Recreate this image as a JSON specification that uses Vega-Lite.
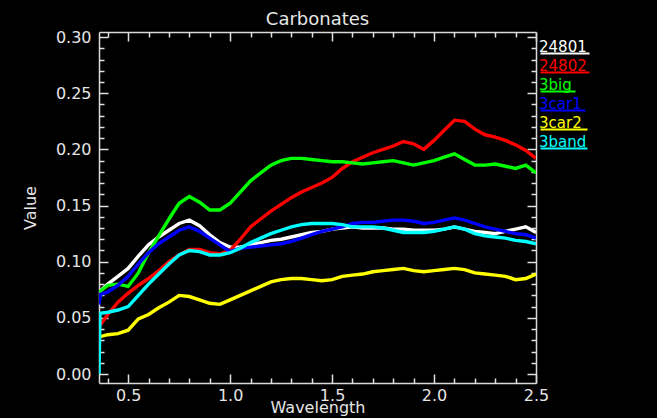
{
"$schema":"https://vega.github.io/schema/vega-lite/v6.json",
"width":437,"height":351,
"autosize":{"type":"none"},
"padding":{"left":99,"top":32,"right":121,"bottom":35},
"background":"black",
"title":{"text":"Carbonates","color":"#e6e6e6","font":"DejaVu Sans","fontSize":18,"fontWeight":"normal","offset":0},
"config":{"view":{"stroke":null},"axis":{"domainColor":"#d9d9d9","tickColor":"#d9d9d9","labelColor":"#e6e6e6","titleColor":"#e6e6e6","labelFont":"DejaVu Sans","titleFont":"DejaVu Sans","titleFontWeight":"normal","grid":false,"labelFlush":false,"domainWidth":1.5,"tickWidth":1.5,"ticks":true,"tickOpacity":1}},
"resolve":{"axis":{"x":"independent","y":"independent"}},
"layer":[
{"data":{"values":[
{"series":"24801","wl":0.357,"v":0.073},{"series":"24801","wl":0.40,"v":0.080},{"series":"24801","wl":0.45,"v":0.087},{"series":"24801","wl":0.50,"v":0.094},{"series":"24801","wl":0.55,"v":0.105},{"series":"24801","wl":0.60,"v":0.115},{"series":"24801","wl":0.65,"v":0.122},{"series":"24801","wl":0.70,"v":0.128},{"series":"24801","wl":0.75,"v":0.134},{"series":"24801","wl":0.80,"v":0.137},{"series":"24801","wl":0.85,"v":0.132},{"series":"24801","wl":0.90,"v":0.124},{"series":"24801","wl":0.95,"v":0.117},{"series":"24801","wl":1.00,"v":0.113},{"series":"24801","wl":1.05,"v":0.113},{"series":"24801","wl":1.10,"v":0.115},{"series":"24801","wl":1.15,"v":0.117},{"series":"24801","wl":1.20,"v":0.119},{"series":"24801","wl":1.25,"v":0.120},{"series":"24801","wl":1.30,"v":0.122},{"series":"24801","wl":1.35,"v":0.124},{"series":"24801","wl":1.40,"v":0.126},{"series":"24801","wl":1.45,"v":0.127},{"series":"24801","wl":1.50,"v":0.129},{"series":"24801","wl":1.55,"v":0.130},{"series":"24801","wl":1.60,"v":0.131},{"series":"24801","wl":1.65,"v":0.130},{"series":"24801","wl":1.70,"v":0.130},{"series":"24801","wl":1.75,"v":0.130},{"series":"24801","wl":1.80,"v":0.129},{"series":"24801","wl":1.85,"v":0.129},{"series":"24801","wl":1.90,"v":0.128},{"series":"24801","wl":1.95,"v":0.128},{"series":"24801","wl":2.00,"v":0.128},{"series":"24801","wl":2.05,"v":0.129},{"series":"24801","wl":2.10,"v":0.131},{"series":"24801","wl":2.15,"v":0.129},{"series":"24801","wl":2.20,"v":0.127},{"series":"24801","wl":2.25,"v":0.126},{"series":"24801","wl":2.30,"v":0.125},{"series":"24801","wl":2.35,"v":0.127},{"series":"24801","wl":2.40,"v":0.129},{"series":"24801","wl":2.45,"v":0.131},{"series":"24801","wl":2.50,"v":0.126},
{"series":"24802","wl":0.357,"v":0.042},{"series":"24802","wl":0.40,"v":0.053},{"series":"24802","wl":0.45,"v":0.064},{"series":"24802","wl":0.50,"v":0.072},{"series":"24802","wl":0.55,"v":0.079},{"series":"24802","wl":0.60,"v":0.085},{"series":"24802","wl":0.65,"v":0.092},{"series":"24802","wl":0.70,"v":0.100},{"series":"24802","wl":0.75,"v":0.106},{"series":"24802","wl":0.80,"v":0.111},{"series":"24802","wl":0.85,"v":0.111},{"series":"24802","wl":0.90,"v":0.108},{"series":"24802","wl":0.95,"v":0.107},{"series":"24802","wl":1.00,"v":0.110},{"series":"24802","wl":1.05,"v":0.120},{"series":"24802","wl":1.10,"v":0.131},{"series":"24802","wl":1.15,"v":0.138},{"series":"24802","wl":1.20,"v":0.145},{"series":"24802","wl":1.25,"v":0.151},{"series":"24802","wl":1.30,"v":0.157},{"series":"24802","wl":1.35,"v":0.162},{"series":"24802","wl":1.40,"v":0.166},{"series":"24802","wl":1.45,"v":0.170},{"series":"24802","wl":1.50,"v":0.175},{"series":"24802","wl":1.55,"v":0.183},{"series":"24802","wl":1.60,"v":0.189},{"series":"24802","wl":1.65,"v":0.193},{"series":"24802","wl":1.70,"v":0.197},{"series":"24802","wl":1.75,"v":0.200},{"series":"24802","wl":1.80,"v":0.203},{"series":"24802","wl":1.85,"v":0.207},{"series":"24802","wl":1.90,"v":0.205},{"series":"24802","wl":1.95,"v":0.200},{"series":"24802","wl":2.00,"v":0.208},{"series":"24802","wl":2.05,"v":0.217},{"series":"24802","wl":2.10,"v":0.226},{"series":"24802","wl":2.15,"v":0.225},{"series":"24802","wl":2.20,"v":0.218},{"series":"24802","wl":2.25,"v":0.213},{"series":"24802","wl":2.30,"v":0.211},{"series":"24802","wl":2.35,"v":0.208},{"series":"24802","wl":2.40,"v":0.204},{"series":"24802","wl":2.45,"v":0.199},{"series":"24802","wl":2.50,"v":0.192},
{"series":"3big","wl":0.357,"v":0.073},{"series":"3big","wl":0.40,"v":0.079},{"series":"3big","wl":0.45,"v":0.080},{"series":"3big","wl":0.50,"v":0.078},{"series":"3big","wl":0.55,"v":0.090},{"series":"3big","wl":0.60,"v":0.108},{"series":"3big","wl":0.65,"v":0.123},{"series":"3big","wl":0.70,"v":0.138},{"series":"3big","wl":0.75,"v":0.152},{"series":"3big","wl":0.80,"v":0.158},{"series":"3big","wl":0.85,"v":0.153},{"series":"3big","wl":0.90,"v":0.146},{"series":"3big","wl":0.95,"v":0.146},{"series":"3big","wl":1.00,"v":0.152},{"series":"3big","wl":1.05,"v":0.162},{"series":"3big","wl":1.10,"v":0.172},{"series":"3big","wl":1.15,"v":0.179},{"series":"3big","wl":1.20,"v":0.186},{"series":"3big","wl":1.25,"v":0.190},{"series":"3big","wl":1.30,"v":0.192},{"series":"3big","wl":1.35,"v":0.192},{"series":"3big","wl":1.40,"v":0.191},{"series":"3big","wl":1.45,"v":0.190},{"series":"3big","wl":1.50,"v":0.189},{"series":"3big","wl":1.55,"v":0.189},{"series":"3big","wl":1.60,"v":0.188},{"series":"3big","wl":1.65,"v":0.187},{"series":"3big","wl":1.70,"v":0.188},{"series":"3big","wl":1.75,"v":0.189},{"series":"3big","wl":1.80,"v":0.190},{"series":"3big","wl":1.85,"v":0.188},{"series":"3big","wl":1.90,"v":0.186},{"series":"3big","wl":1.95,"v":0.188},{"series":"3big","wl":2.00,"v":0.190},{"series":"3big","wl":2.05,"v":0.193},{"series":"3big","wl":2.10,"v":0.196},{"series":"3big","wl":2.15,"v":0.191},{"series":"3big","wl":2.20,"v":0.186},{"series":"3big","wl":2.25,"v":0.186},{"series":"3big","wl":2.30,"v":0.187},{"series":"3big","wl":2.35,"v":0.185},{"series":"3big","wl":2.40,"v":0.183},{"series":"3big","wl":2.45,"v":0.186},{"series":"3big","wl":2.50,"v":0.179},
{"series":"3car1","wl":0.357,"v":0.062},{"series":"3car1","wl":0.365,"v":0.071},{"series":"3car1","wl":0.40,"v":0.073},{"series":"3car1","wl":0.45,"v":0.079},{"series":"3car1","wl":0.50,"v":0.087},{"series":"3car1","wl":0.55,"v":0.098},{"series":"3car1","wl":0.60,"v":0.108},{"series":"3car1","wl":0.65,"v":0.116},{"series":"3car1","wl":0.70,"v":0.122},{"series":"3car1","wl":0.75,"v":0.128},{"series":"3car1","wl":0.80,"v":0.131},{"series":"3car1","wl":0.85,"v":0.127},{"series":"3car1","wl":0.90,"v":0.121},{"series":"3car1","wl":0.95,"v":0.115},{"series":"3car1","wl":1.00,"v":0.109},{"series":"3car1","wl":1.05,"v":0.112},{"series":"3car1","wl":1.10,"v":0.113},{"series":"3car1","wl":1.15,"v":0.114},{"series":"3car1","wl":1.20,"v":0.115},{"series":"3car1","wl":1.25,"v":0.116},{"series":"3car1","wl":1.30,"v":0.118},{"series":"3car1","wl":1.35,"v":0.121},{"series":"3car1","wl":1.40,"v":0.124},{"series":"3car1","wl":1.45,"v":0.127},{"series":"3car1","wl":1.50,"v":0.129},{"series":"3car1","wl":1.55,"v":0.131},{"series":"3car1","wl":1.60,"v":0.134},{"series":"3car1","wl":1.65,"v":0.135},{"series":"3car1","wl":1.70,"v":0.135},{"series":"3car1","wl":1.75,"v":0.136},{"series":"3car1","wl":1.80,"v":0.137},{"series":"3car1","wl":1.85,"v":0.137},{"series":"3car1","wl":1.90,"v":0.136},{"series":"3car1","wl":1.95,"v":0.134},{"series":"3car1","wl":2.00,"v":0.135},{"series":"3car1","wl":2.05,"v":0.137},{"series":"3car1","wl":2.10,"v":0.139},{"series":"3car1","wl":2.15,"v":0.137},{"series":"3car1","wl":2.20,"v":0.134},{"series":"3car1","wl":2.25,"v":0.131},{"series":"3car1","wl":2.30,"v":0.129},{"series":"3car1","wl":2.35,"v":0.127},{"series":"3car1","wl":2.40,"v":0.125},{"series":"3car1","wl":2.45,"v":0.124},{"series":"3car1","wl":2.50,"v":0.121},
{"series":"3car2","wl":0.357,"v":0.033},{"series":"3car2","wl":0.40,"v":0.035},{"series":"3car2","wl":0.45,"v":0.036},{"series":"3car2","wl":0.50,"v":0.039},{"series":"3car2","wl":0.55,"v":0.049},{"series":"3car2","wl":0.60,"v":0.053},{"series":"3car2","wl":0.65,"v":0.059},{"series":"3car2","wl":0.70,"v":0.064},{"series":"3car2","wl":0.75,"v":0.070},{"series":"3car2","wl":0.80,"v":0.069},{"series":"3car2","wl":0.85,"v":0.066},{"series":"3car2","wl":0.90,"v":0.063},{"series":"3car2","wl":0.95,"v":0.062},{"series":"3car2","wl":1.00,"v":0.066},{"series":"3car2","wl":1.05,"v":0.070},{"series":"3car2","wl":1.10,"v":0.074},{"series":"3car2","wl":1.15,"v":0.078},{"series":"3car2","wl":1.20,"v":0.082},{"series":"3car2","wl":1.25,"v":0.084},{"series":"3car2","wl":1.30,"v":0.085},{"series":"3car2","wl":1.35,"v":0.085},{"series":"3car2","wl":1.40,"v":0.084},{"series":"3car2","wl":1.45,"v":0.083},{"series":"3car2","wl":1.50,"v":0.084},{"series":"3car2","wl":1.55,"v":0.087},{"series":"3car2","wl":1.60,"v":0.088},{"series":"3car2","wl":1.65,"v":0.089},{"series":"3car2","wl":1.70,"v":0.091},{"series":"3car2","wl":1.75,"v":0.092},{"series":"3car2","wl":1.80,"v":0.093},{"series":"3car2","wl":1.85,"v":0.094},{"series":"3car2","wl":1.90,"v":0.092},{"series":"3car2","wl":1.95,"v":0.091},{"series":"3car2","wl":2.00,"v":0.092},{"series":"3car2","wl":2.05,"v":0.093},{"series":"3car2","wl":2.10,"v":0.094},{"series":"3car2","wl":2.15,"v":0.093},{"series":"3car2","wl":2.20,"v":0.090},{"series":"3car2","wl":2.25,"v":0.089},{"series":"3car2","wl":2.30,"v":0.088},{"series":"3car2","wl":2.35,"v":0.087},{"series":"3car2","wl":2.40,"v":0.084},{"series":"3car2","wl":2.45,"v":0.085},{"series":"3car2","wl":2.50,"v":0.089},
{"series":"3band","wl":0.357,"v":0.0},{"series":"3band","wl":0.362,"v":0.054},{"series":"3band","wl":0.40,"v":0.055},{"series":"3band","wl":0.45,"v":0.057},{"series":"3band","wl":0.50,"v":0.060},{"series":"3band","wl":0.55,"v":0.070},{"series":"3band","wl":0.60,"v":0.080},{"series":"3band","wl":0.65,"v":0.089},{"series":"3band","wl":0.70,"v":0.098},{"series":"3band","wl":0.75,"v":0.106},{"series":"3band","wl":0.80,"v":0.110},{"series":"3band","wl":0.85,"v":0.109},{"series":"3band","wl":0.90,"v":0.106},{"series":"3band","wl":0.95,"v":0.106},{"series":"3band","wl":1.00,"v":0.108},{"series":"3band","wl":1.05,"v":0.112},{"series":"3band","wl":1.10,"v":0.117},{"series":"3band","wl":1.15,"v":0.121},{"series":"3band","wl":1.20,"v":0.125},{"series":"3band","wl":1.25,"v":0.128},{"series":"3band","wl":1.30,"v":0.131},{"series":"3band","wl":1.35,"v":0.133},{"series":"3band","wl":1.40,"v":0.134},{"series":"3band","wl":1.45,"v":0.134},{"series":"3band","wl":1.50,"v":0.134},{"series":"3band","wl":1.55,"v":0.133},{"series":"3band","wl":1.60,"v":0.131},{"series":"3band","wl":1.65,"v":0.131},{"series":"3band","wl":1.70,"v":0.131},{"series":"3band","wl":1.75,"v":0.130},{"series":"3band","wl":1.80,"v":0.128},{"series":"3band","wl":1.85,"v":0.126},{"series":"3band","wl":1.90,"v":0.126},{"series":"3band","wl":1.95,"v":0.126},{"series":"3band","wl":2.00,"v":0.127},{"series":"3band","wl":2.05,"v":0.129},{"series":"3band","wl":2.10,"v":0.131},{"series":"3band","wl":2.15,"v":0.129},{"series":"3band","wl":2.20,"v":0.125},{"series":"3band","wl":2.25,"v":0.123},{"series":"3band","wl":2.30,"v":0.122},{"series":"3band","wl":2.35,"v":0.121},{"series":"3band","wl":2.40,"v":0.119},{"series":"3band","wl":2.45,"v":0.118},{"series":"3band","wl":2.50,"v":0.116}
]},
"mark":{"type":"line","strokeWidth":3.4,"clip":true},
"encoding":{
"x":{"field":"wl","type":"quantitative","scale":{"domain":[0.357,2.5],"nice":false,"zero":false},
"axis":{"orient":"bottom","values":[0.5,1,1.5,2,2.5],"format":".1f","ticks":false,"labelPadding":4,"labelFontSize":16,"title":"Wavelength","titleFontSize":16,"titleY":29,"titleBaseline":"alphabetic"}},
"y":{"field":"v","type":"quantitative","scale":{"domain":[-0.008,0.3045],"nice":false,"zero":false},
"axis":{"orient":"left","values":[0,0.05,0.1,0.15,0.2,0.25,0.3],"format":".2f","ticks":false,"labelPadding":8,"labelFontSize":16,"title":"Value","titleFontSize":16,"titlePadding":17}},
"color":{"field":"series","type":"nominal","scale":{"domain":["24801","24802","3big","3car1","3car2","3band"],"range":["#ffffff","#ff0000","#00ff00","#0000ff","#ffff00","#00ffff"]},
"legend":{"orient":"none","legendX":425,"legendY":7,"title":null,"padding":0,"symbolSize":4,"symbolStrokeWidth":2,"symbolType":"M9,7H61","labelOffset":0,"labelFont":"DejaVu Sans","labelFontSize":15,"rowPadding":0,
"encode":{"labels":{"update":{"fill":{"scale":"color","field":"value"}}},"symbols":{"update":{"shape":{"signal":"datum.value==='3big'?'M9,7H44':datum.value==='3car1'?'M9,7H54':(datum.value==='3car2'||datum.value==='3band')?'M9,7H56':'M9,7H58'"}}}}}}
}},
{"data":{"values":[]},"mark":{"type":"point","opacity":0},
"encoding":{
"x":{"field":"wl","type":"quantitative","scale":{"domain":[0.357,2.5],"nice":false,"zero":false},
"axis":{"orient":"top","offset":-351,"values":[0.5,1,1.5,2,2.5],"labels":false,"domain":false,"ticks":true,"tickSize":9,"tickWidth":1.5,"tickColor":"#e0e0e0","title":null}},
"y":{"field":"v","type":"quantitative","scale":{"domain":[-0.008,0.3045],"nice":false,"zero":false},
"axis":{"orient":"right","offset":-437,"values":[0,0.05,0.1,0.15,0.2,0.25,0.3],"labels":false,"domain":false,"ticks":true,"tickSize":9,"tickWidth":1.5,"tickColor":"#e0e0e0","title":null}}
}},
{"data":{"values":[]},"mark":{"type":"point","opacity":0},
"encoding":{
"x":{"field":"wl","type":"quantitative","scale":{"domain":[0.357,2.5],"nice":false,"zero":false},
"axis":{"orient":"top","offset":-351,"values":[0.4,0.6,0.7,0.8,0.9,1.1,1.2,1.3,1.4,1.6,1.7,1.8,1.9,2.1,2.2,2.3,2.4],"labels":false,"domain":false,"ticks":true,"tickSize":5,"tickWidth":1.5,"tickColor":"#e0e0e0","title":null}},
"y":{"field":"v","type":"quantitative","scale":{"domain":[-0.008,0.3045],"nice":false,"zero":false},
"axis":{"orient":"right","offset":-437,"values":[0.01,0.02,0.03,0.04,0.06,0.07,0.08,0.09,0.11,0.12,0.13,0.14,0.16,0.17,0.18,0.19,0.21,0.22,0.23,0.24,0.26,0.27,0.28,0.29],"labels":false,"domain":false,"ticks":true,"tickSize":5,"tickWidth":1.5,"tickColor":"#e0e0e0","title":null}}
}},
{"data":{"values":[]},"mark":{"type":"point","opacity":0},
"encoding":{
"x":{"field":"wl","type":"quantitative","scale":{"domain":[0.357,2.5],"nice":false,"zero":false},
"axis":{"orient":"bottom","offset":-351,"values":[0.5,1,1.5,2,2.5],"labels":false,"domain":true,"ticks":true,"tickSize":9,"tickWidth":1.5,"tickColor":"#e0e0e0","title":null}},
"y":{"field":"v","type":"quantitative","scale":{"domain":[-0.008,0.3045],"nice":false,"zero":false},
"axis":{"orient":"left","offset":-437,"values":[0,0.05,0.1,0.15,0.2,0.25,0.3],"labels":false,"domain":true,"ticks":true,"tickSize":9,"tickWidth":1.5,"tickColor":"#e0e0e0","title":null}}
}},
{"data":{"values":[]},"mark":{"type":"point","opacity":0},
"encoding":{
"x":{"field":"wl","type":"quantitative","scale":{"domain":[0.357,2.5],"nice":false,"zero":false},
"axis":{"orient":"bottom","offset":-351,"values":[0.4,0.6,0.7,0.8,0.9,1.1,1.2,1.3,1.4,1.6,1.7,1.8,1.9,2.1,2.2,2.3,2.4],"labels":false,"domain":false,"ticks":true,"tickSize":5,"tickWidth":1.5,"tickColor":"#e0e0e0","title":null}},
"y":{"field":"v","type":"quantitative","scale":{"domain":[-0.008,0.3045],"nice":false,"zero":false},
"axis":{"orient":"left","offset":-437,"values":[0.01,0.02,0.03,0.04,0.06,0.07,0.08,0.09,0.11,0.12,0.13,0.14,0.16,0.17,0.18,0.19,0.21,0.22,0.23,0.24,0.26,0.27,0.28,0.29],"labels":false,"domain":false,"ticks":true,"tickSize":5,"tickWidth":1.5,"tickColor":"#e0e0e0","title":null}}
}}
]
}
